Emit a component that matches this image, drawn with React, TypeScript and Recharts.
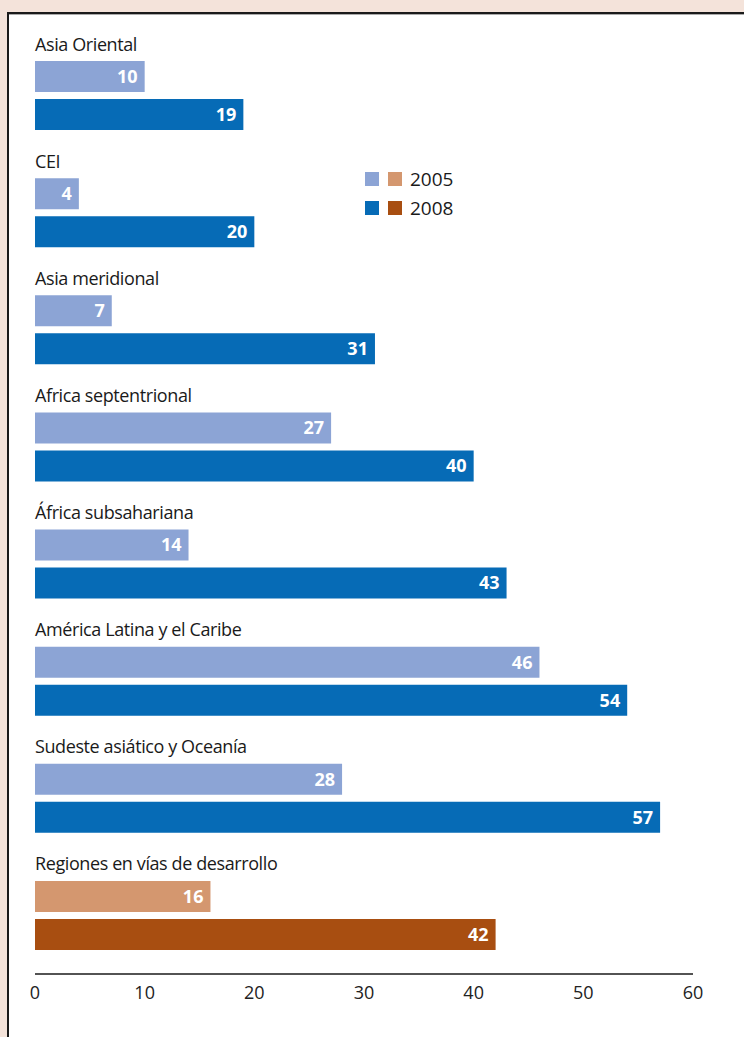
import React from 'react';
import { BarChart, Bar, XAxis, YAxis, Cell, LabelList } from 'recharts';

// Regions, top to bottom
const regions = [
    'Asia Oriental',
    'CEI',
    'Asia meridional',
    'Africa septentrional',
    'África subsahariana',
    'América Latina y el Caribe',
    'Sudeste asiático y Oceanía',
    'Regiones en vías de desarrollo',
];
const values2005 = [10, 4, 7, 27, 14, 46, 28, 16];
const values2008 = [19, 20, 31, 40, 43, 54, 57, 42];
// the aggregate row gets the orange palette
const isTotal = [false, false, false, false, false, false, false, true];
const xTicks = [0, 10, 20, 30, 40, 50, 60];
const years = ['2005', '2008'];

const COLORS = {
    light: '#8ca4d5',
    dark: '#066bb6',
    lightTotal: '#d4976f',
    darkTotal: '#a84e11',
};

const FONT = '"Open Sans", "Noto Sans", sans-serif';

const chartData = regions.map((name, i) => ({
    name,
    v2005: values2005[i],
    v2008: values2008[i],
    total: isTotal[i],
}));

function RegionTick(props: any) {
    const { x, y, payload } = props;
    return (
        <text x={x} y={y - 45} textAnchor="start" fontSize={18} fontFamily={FONT} fill="#1a1a1a" letterSpacing={-0.4}>
            {payload.value}
        </text>
    );
}

function YearLegend() {
    const rows = [
        [COLORS.light, COLORS.lightTotal],
        [COLORS.dark, COLORS.darkTotal],
    ];
    return (
        <div style={{ position: 'absolute', left: 365, top: 164, fontFamily: FONT }}>
            {rows.map((pair, i) => (
                <div key={years[i]} style={{ display: 'flex', alignItems: 'center', height: 29 }}>
                    <span style={{ width: 14, height: 14, background: pair[0], display: 'inline-block' }} />
                    <span style={{ width: 14, height: 14, background: pair[1], display: 'inline-block', marginLeft: 9 }} />
                    <span style={{ marginLeft: 8, fontSize: 19, color: '#1a1a1a' }}>{years[i]}</span>
                </div>
            ))}
        </div>
    );
}

export default function App() {
    return (
        <div style={{ position: 'absolute', left: 0, top: 0, width: 744, height: 1037, background: '#f4e3da', overflow: 'hidden' }}>
            <div
                style={{
                    position: 'absolute',
                    left: 7,
                    top: 12,
                    width: 760,
                    height: 1050,
                    background: '#fff',
                    borderTop: '2px solid #1a1a1a',
                    borderLeft: '2px solid #1a1a1a',
                    boxShadow: '0 1px 0 #aaa inset',
                }}
            />
            <div style={{ position: 'absolute', left: 0, top: 0 }}>
                <BarChart
                    width={744}
                    height={1037}
                    data={chartData}
                    layout="vertical"
                    margin={{ top: 37, right: 51, bottom: 23, left: 34 }}
                    barSize={31}
                    barGap={7}
                >
                    <XAxis
                        type="number"
                        domain={[0, 60]}
                        ticks={xTicks}
                        axisLine={{ stroke: '#1a1a1a', strokeWidth: 1.5 }}
                        tickLine={false}
                        tickSize={0}
                        tickMargin={12}
                        height={40}
                        tick={{ fontSize: 18, fill: '#222', fontFamily: FONT }}
                    />
                    <YAxis
                        type="category"
                        dataKey="name"
                        width={1}
                        axisLine={false}
                        tickLine={false}
                        tickSize={0}
                        tickMargin={0}
                        tick={(p: any) => <RegionTick {...p} />}
                        interval={0}
                    />
                    <Bar dataKey="v2005" isAnimationActive={false}>
                        {chartData.map((d) => (
                            <Cell key={d.name} fill={d.total ? COLORS.lightTotal : COLORS.light} />
                        ))}
                        <LabelList
                            dataKey="v2005"
                            position="insideRight"
                            offset={7}
                            fill="#fff"
                            fontSize={18}
                            fontWeight={700}
                            fontFamily={FONT}
                        />
                    </Bar>
                    <Bar dataKey="v2008" isAnimationActive={false}>
                        {chartData.map((d) => (
                            <Cell key={d.name} fill={d.total ? COLORS.darkTotal : COLORS.dark} />
                        ))}
                        <LabelList
                            dataKey="v2008"
                            position="insideRight"
                            offset={7}
                            fill="#fff"
                            fontSize={18}
                            fontWeight={700}
                            fontFamily={FONT}
                        />
                    </Bar>
                </BarChart>
            </div>
            <YearLegend />
        </div>
    );
}
